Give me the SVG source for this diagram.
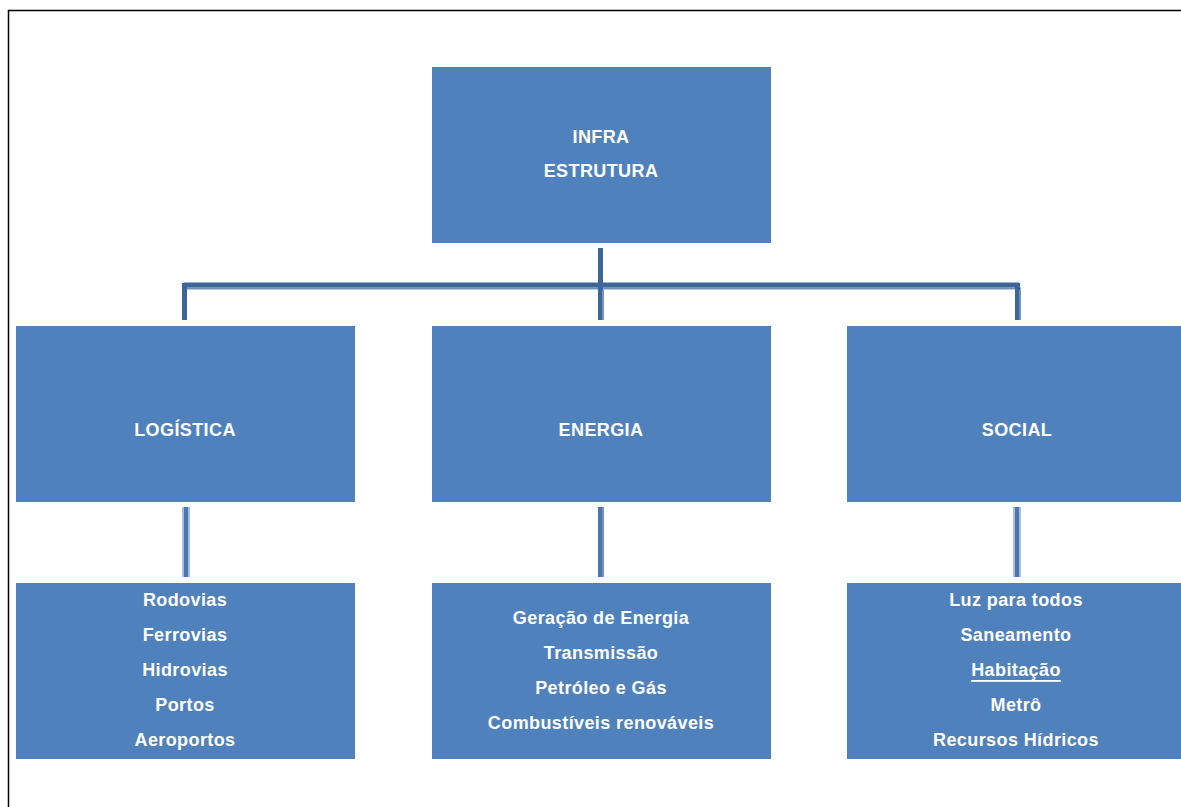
<svg xmlns="http://www.w3.org/2000/svg" width="1181" height="807" viewBox="0 0 1181 807">
<style>
.box{fill:#4f81bd}
.t{font-family:"Liberation Sans",Arial,sans-serif;font-weight:bold;font-size:18px;letter-spacing:0.4px;fill:#ffffff;text-anchor:middle;dominant-baseline:central}
.c{stroke:#3e6599;stroke-width:5;fill:none}
.cl{stroke:#7392bb;stroke-width:2;fill:none}
.halo{stroke:#a8bedb;stroke-width:8;fill:none}
.core{stroke:#4a77b0;stroke-width:4;fill:none}
</style>
<rect x="0" y="0" width="1181" height="807" fill="#ffffff"/>
<path d="M8.5 807 V10.5 H1181" fill="none" stroke="#000" stroke-width="1.5"/>
<g id="connectors">
<path class="cl" d="M186 288.5 H1021"/>
<path class="c" d="M184 285 H1019"/>
<path class="c" d="M184.5 283 V320"/>
<path class="c" d="M600.5 248 V320"/>
<path class="cl" d="M603 290 V320"/>
<path class="c" d="M1017.5 283 V320"/>
<path class="cl" d="M1020 290 V320"/>
<path class="halo" d="M186 507 V577"/>
<path class="core" d="M186 507 V577"/>
<path class="cl" d="M603 507 V577"/>
<path class="core" d="M600 507 V577"/>
<path class="halo" d="M1017 507 V577"/>
<path class="core" d="M1017 507 V577"/>
</g>
<g id="infra">
<rect class="box" x="432" y="67" width="339" height="176"/>
<text class="t" x="601" y="137">INFRA</text>
<text class="t" x="601" y="171">ESTRUTURA</text>
</g>
<g id="logistica">
<rect class="box" x="16" y="326" width="339" height="176"/>
<text class="t" x="185" y="430">LOGÍSTICA</text>
</g>
<g id="energia">
<rect class="box" x="432" y="326" width="339" height="176"/>
<text class="t" x="601" y="430">ENERGIA</text>
</g>
<g id="social">
<rect class="box" x="847" y="326" width="340" height="176"/>
<text class="t" x="1017" y="430">SOCIAL</text>
</g>
<g id="logistica-itens">
<rect class="box" x="16" y="583" width="339" height="176"/>
<text class="t" x="185" y="600">Rodovias</text>
<text class="t" x="185" y="635">Ferrovias</text>
<text class="t" x="185" y="670">Hidrovias</text>
<text class="t" x="185" y="705">Portos</text>
<text class="t" x="185" y="740">Aeroportos</text>
</g>
<g id="energia-itens">
<rect class="box" x="432" y="583" width="339" height="176"/>
<text class="t" x="601" y="618">Geração de Energia</text>
<text class="t" x="601" y="653">Transmissão</text>
<text class="t" x="601" y="688">Petróleo e Gás</text>
<text class="t" x="601" y="723">Combustíveis renováveis</text>
</g>
<g id="social-itens">
<rect class="box" x="847" y="583" width="340" height="176"/>
<text class="t" x="1016" y="600">Luz para todos</text>
<text class="t" x="1016" y="635">Saneamento</text>
<text class="t" x="1016" y="670" text-decoration="underline">Habitação</text>
<text class="t" x="1016" y="705">Metrô</text>
<text class="t" x="1016" y="740">Recursos Hídricos</text>
</g>
</svg>
